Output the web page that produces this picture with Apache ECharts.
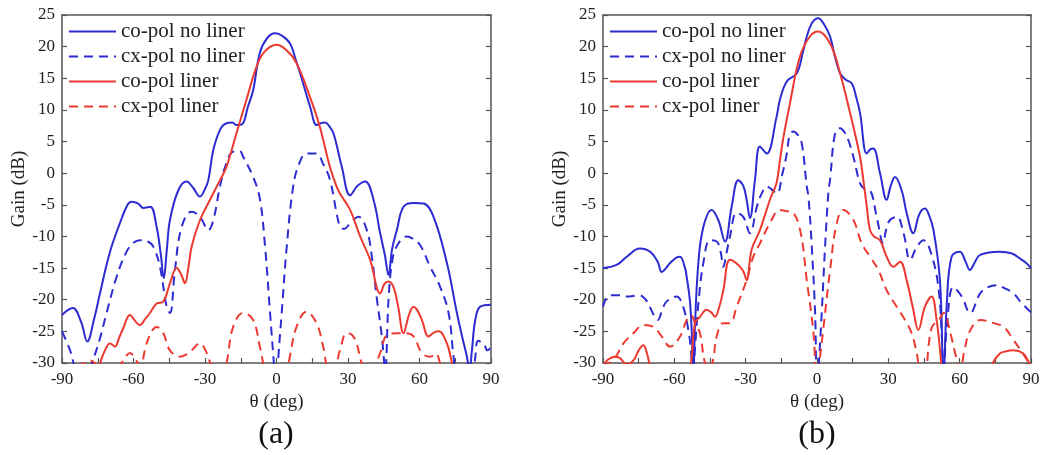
<!DOCTYPE html>
<html>
<head>
<meta charset="utf-8">
<script src="https://cdn.jsdelivr.net/npm/echarts@6/dist/echarts.min.js"></script>
<style>
  html, body { margin: 0; padding: 0; background: #fff; }
  #chart { width: 1043px; height: 455px; }
</style>
</head>
<body>
<div id="chart"></div>
<script>
// (a) [theta deg, gain dB]
const aCoNoLiner = [[-90,-22.4],[-85.5,-21.3],[-82,-23.5],[-79.4,-26.6],[-76.5,-23],[-74,-18.9],[-70,-12.6],[-65.7,-7.9],[-62.5,-5],[-60.8,-4.5],[-58,-4.8],[-55.9,-5.5],[-53,-5.3],[-50.3,-8.5],[-48.5,-13],[-47.3,-16.6],[-46,-12],[-44.7,-7.4],[-41.2,-2.7],[-37.7,-1.3],[-35,-2.3],[-32.1,-3.7],[-30,-2.5],[-28.6,-1.1],[-26.5,3.7],[-23.5,7],[-21,7.9],[-18.5,8],[-16.8,7.6],[-14.5,7.7],[-12,10.5],[-9.8,13.1],[-7,19],[-4,21.3],[-0.6,22.1],[2,21.8],[5.7,20.5],[8,18],[9.9,15.8],[14.1,10.5],[16.9,7.6],[18.5,7.9],[20.4,8],[22,7.5],[23.9,6.3],[27.4,1],[30.9,-3.5],[34,-2],[37.2,-1.3],[40.7,-4.2],[43.5,-9.5],[45.5,-13],[47,-16.1],[48.5,-12],[50.5,-9],[53.3,-5.3],[57.5,-4.7],[61.7,-4.8],[65.9,-6.9],[71.5,-14.2],[75.7,-22.1],[78,-26],[79.9,-29],[81,-31],[82,-28],[83.4,-23.2],[85.5,-21.1],[90,-20.8]];
const aCxNoLiner = [[-90,-25],[-86.6,-28],[-84,-31],[-80,-32],[-77,-29.5],[-74,-26],[-71.3,-22.1],[-67.1,-16.4],[-62.9,-12.4],[-60,-11],[-57.3,-10.6],[-54,-10.8],[-51.7,-11.6],[-48.9,-14.8],[-46.1,-21.1],[-44.7,-22.1],[-42.6,-15.3],[-39.8,-8.5],[-35.6,-6.1],[-32.1,-6.9],[-28.6,-9],[-26.5,-7.4],[-23.7,-2.1],[-21,1.6],[-18.2,3.4],[-15.5,3.5],[-14,2.6],[-9.8,-0.6],[-7,-4],[-4.8,-11.6],[-2.7,-22.1],[-1.3,-29],[0,-35],[0.8,-29],[2.2,-22],[4.3,-11.6],[7,-2.1],[9.5,1.5],[12.6,3.1],[16.8,3.1],[19.5,1.5],[22.4,-1],[26.6,-8.5],[28.5,-8.8],[30.9,-7.9],[34.4,-6.9],[37.9,-9],[40,-13.2],[42,-19.5],[44.2,-25.8],[45.6,-31],[47,-20],[48.5,-14],[50.5,-11.5],[54.7,-10],[57,-10.3],[60.3,-11.4],[64.5,-14.8],[68.7,-18],[72.2,-22.1],[74.3,-29],[76,-33],[80,-33],[83,-30],[84.6,-26.5],[87,-27],[88.5,-28],[90,-27.5]];
const aCoLiner = [[-90,-34],[-76,-33],[-74,-30],[-72,-28],[-69.9,-26.9],[-67.8,-27.4],[-66,-26],[-64.3,-24.5],[-61.5,-22.4],[-59,-23.5],[-57.3,-24],[-55,-23],[-53.1,-22.1],[-50.3,-20.6],[-47.5,-20.3],[-44.7,-17.4],[-41.9,-15],[-40,-16],[-38.4,-17.4],[-37,-15],[-35.6,-11.6],[-32.1,-7.4],[-27.9,-4.2],[-23.7,-1.1],[-21,1],[-16.8,6.3],[-12.6,11.6],[-8.4,16.8],[-5,19.2],[0,20.3],[4,19.5],[8.4,17.4],[14,12.1],[18.2,7.3],[22.4,1],[25.2,-2.1],[26.6,-3.2],[30.9,-5.8],[35.1,-10],[39.3,-13.7],[43.5,-19],[45.3,-17.5],[47,-17.1],[49.1,-18],[51,-21],[53.3,-25.3],[55.5,-22.5],[57.5,-21.1],[59,-21.6],[61,-23.2],[63.8,-25.8],[66,-25.2],[68,-25],[71.5,-26.9],[73.6,-30],[76,-34],[90,-34]];
const aCxLiner = [[-90,-31],[-85,-30.5],[-80,-30],[-78,-29.6],[-75,-30.5],[-72,-31],[-68,-31],[-65,-30],[-61.5,-28.4],[-59,-29.5],[-57.3,-30.5],[-54.5,-26.9],[-52,-24.8],[-50.3,-24.3],[-47.5,-25.3],[-44.7,-28],[-40.5,-29],[-37.5,-28.6],[-35.6,-28],[-32.1,-26.9],[-29.3,-28.4],[-27,-30.5],[-23,-31.5],[-21,-30],[-18.2,-24.3],[-14,-22.1],[-9.8,-23.2],[-7,-27.4],[-5,-31],[-2,-35],[0,-36],[3,-34],[5.6,-29],[8.4,-24.3],[12.6,-21.9],[16.8,-23.7],[19.6,-27.4],[22,-31],[24,-31],[26.6,-28],[29.4,-25.3],[31.5,-25.5],[33.6,-26.9],[36.4,-30.5],[40,-31],[43.5,-28.4],[46.3,-25.6],[50.5,-25.3],[54.7,-25.3],[57.5,-25.8],[61,-28.4],[64.5,-29],[67,-28.5],[69,-30.2],[75,-32],[90,-32]];

// (b)
const bCoNoLiner = [[-90,-15],[-84.3,-14.5],[-80,-13.2],[-74.5,-11.9],[-70.2,-12.4],[-67,-14],[-65.3,-15.6],[-63.5,-15],[-61.8,-14.2],[-59,-13.3],[-57.6,-13.2],[-55.5,-15],[-54.8,-16.4],[-53.5,-20],[-52.7,-24.8],[-52,-32],[-51.3,-24],[-49.9,-14.2],[-47.8,-8.5],[-44.3,-5.8],[-41.5,-7.4],[-38.7,-10.8],[-35.9,-5.3],[-33.1,-1.1],[-31,-2],[-29.6,-4.2],[-28.2,-7.1],[-26.1,-1.1],[-24,4.2],[-21.2,3.1],[-17,8.9],[-15.6,11.6],[-12.7,14.5],[-8.5,15.8],[-6,19],[-4.3,21.6],[-2,23.8],[0.5,24.5],[3,23.5],[5.5,21.6],[7.5,18.5],[9.7,15.8],[12,14.8],[14.6,14.2],[16.5,12],[18.1,9.5],[20.9,3.1],[22.5,3.8],[23.7,3.9],[26.5,0],[29.3,-4.2],[31,-2],[32.8,-0.6],[35.6,-2.7],[37.7,-6.3],[40.5,-9.5],[43,-6.5],[45.4,-5.6],[47,-6.5],[49,-9],[51.7,-16.9],[53.2,-32],[54.6,-20.6],[56.6,-13.2],[60.1,-12.4],[62.5,-14],[64.3,-15.3],[66.5,-14],[68.6,-12.9],[76.9,-12.4],[82,-12.7],[85.4,-13.5],[88,-14.2],[90,-15]];
const bCxNoLiner = [[-90,-21.1],[-87.2,-19.3],[-83,-19.3],[-80.2,-19.5],[-74.6,-19.3],[-72,-20],[-70.4,-21.1],[-66.9,-23.2],[-65,-21.5],[-63.3,-20.3],[-59.1,-19.5],[-56.3,-21.1],[-54.1,-24.8],[-53,-28],[-52.3,-32],[-51,-26],[-49.9,-20.6],[-47.8,-14.2],[-45,-10.6],[-42.2,-10.8],[-40.5,-12.5],[-39.4,-14.8],[-38,-12.5],[-36.6,-10],[-33.8,-6.3],[-31,-6.9],[-28.2,-9.5],[-25.3,-5.3],[-23,-3],[-21.1,-2.1],[-19,-2.6],[-16.9,-3.2],[-14.5,0],[-12.7,3.1],[-11.5,6],[-10,6.6],[-8,6],[-6.4,4.7],[-4.3,-2.1],[-3.6,-3.7],[-2.2,-11.6],[-0.8,-22.1],[0,-34],[0.8,-30],[2,-22],[3.4,-11.6],[4.8,-3],[5.5,-1],[7.6,6.3],[9.7,7.1],[11.5,6.5],[13.2,5.2],[15.3,2.6],[18.1,-1.6],[20,-2.5],[22.3,-2.7],[25.1,-6.9],[27.9,-11.1],[29,-9],[30.7,-7.4],[33.6,-6.9],[36.4,-9.5],[39.2,-13.7],[42,-11.6],[44.8,-10.6],[48.4,-13.2],[51.2,-18.5],[52.5,-26],[53.2,-32],[54.6,-24.3],[57.4,-18],[60.9,-19.5],[64.4,-22.1],[68.6,-19],[72,-18],[75.6,-17.7],[79,-18.2],[82.6,-19],[86,-20.5],[90,-22]];
const bCoLiner = [[-90,-30.5],[-88,-29.5],[-85,-29],[-83,-29.2],[-80,-30.2],[-77,-29.5],[-75,-28],[-73,-27.2],[-71.5,-28.5],[-70.2,-30.5],[-68,-33],[-55,-33],[-53,-30],[-51.3,-23.7],[-49.2,-22.7],[-46.4,-21.6],[-44.5,-22],[-42.9,-22.7],[-41,-21],[-39.4,-18.5],[-36.6,-13.7],[-33.1,-14.5],[-31,-15.5],[-29.6,-16.9],[-27.5,-12.1],[-24,-9],[-19.8,-4.2],[-17,-1.5],[-15.6,2],[-14.2,5.5],[-11.4,11],[-7.2,18.4],[-3,21.6],[0.5,22.4],[5.5,20.5],[9.7,15.8],[13.9,9.5],[18.1,2.6],[19.5,-1.1],[21,-5.5],[22.3,-9],[24,-10],[26.5,-10.6],[29.3,-13.2],[32.1,-14.8],[34.9,-14],[37.7,-16.9],[40.5,-21.6],[42.6,-24.8],[45.4,-21.1],[48.2,-19.5],[50.3,-23.2],[52,-29],[53,-33],[72,-33],[74,-30],[76.9,-28.5],[79,-28.2],[82.6,-28],[86.8,-28.5],[88.5,-29.5],[90,-30.5]];
const bCxLiner = [[-90,-30.5],[-85.6,-29.5],[-81.4,-26.9],[-77.2,-25.3],[-73,-24],[-68.8,-24.3],[-65.3,-25.8],[-61.8,-27.4],[-57.6,-25.8],[-54.8,-23.2],[-53,-22.5],[-51,-24],[-49.2,-25.3],[-47.1,-30],[-45,-31],[-43.5,-29],[-42.2,-25.8],[-39.4,-23.7],[-36.6,-23.7],[-33.8,-21.1],[-29.6,-16.9],[-26.8,-13.2],[-24,-11.1],[-19.8,-7.9],[-15.6,-5.8],[-12.7,-6],[-10.6,-6.1],[-7.1,-9],[-4.3,-16.9],[-1.6,-24.8],[0,-33],[1,-30],[2.6,-24.8],[5.5,-15.3],[8.3,-7.9],[11.1,-5.8],[15.3,-7.4],[18.8,-11.1],[22.3,-13.2],[25.8,-15.3],[29.3,-18.5],[33.5,-21.1],[37,-23.2],[39.8,-25.3],[42,-28.5],[43.5,-31],[45.5,-31],[47,-27],[48.4,-24.3],[51.2,-23.2],[53.3,-22.1],[56.1,-25.3],[58.5,-29],[60.3,-31],[62,-28],[64.5,-24.8],[68.7,-23.2],[74.3,-23.7],[78.5,-24.3],[82.7,-26.4],[86.9,-28.7],[90,-30.5]];

const seriesNames = ['co-pol no liner', 'cx-pol no liner', 'co-pol liner', 'cx-pol liner'];
const xTicks = { min: -90, max: 90, interval: 30 };
const yTicks = { min: -30, max: 25, interval: 5 };

const font = 'Liberation Serif';
const axisColor = '#555';
const blue = '#2c2cd2';
const red = '#ec3a30';

function bottomX(grid) {
  return {
    gridIndex: grid, type: 'value', ...xTicks, position: 'bottom',
    axisLine: { onZero: false, lineStyle: { color: axisColor, width: 1.5 } },
    axisTick: { inside: true, length: 5, lineStyle: { color: axisColor, width: 1.2 } },
    minorTick: { show: true, splitNumber: 2, length: 5, lineStyle: { color: axisColor, width: 1.2 } },
    axisLabel: { color: '#222', fontFamily: font, fontSize: 17, margin: 8 },
    splitLine: { show: false },
    name: 'θ (deg)', nameLocation: 'middle', nameGap: 28,
    nameTextStyle: { color: '#222', fontFamily: font, fontSize: 19 }
  }
}
function topX(grid) {
  return {
    gridIndex: grid, type: 'value', ...xTicks, position: 'top',
    axisLine: { onZero: false, lineStyle: { color: axisColor, width: 1.5 } },
    axisTick: { show: false }, axisLabel: { show: false }, splitLine: { show: false }
  }
}
function leftY(grid) {
  return {
    gridIndex: grid, type: 'value', ...yTicks, position: 'left',
    axisLine: { show: true, onZero: false, lineStyle: { color: axisColor, width: 1.5 } },
    axisTick: { show: true, inside: true, length: 5, lineStyle: { color: axisColor, width: 1.2 } },
    axisLabel: { color: '#222', fontFamily: font, fontSize: 17, margin: 7 },
    splitLine: { show: false },
    name: 'Gain (dB)', nameLocation: 'middle', nameRotate: 90, nameGap: 33,
    nameTextStyle: { color: '#222', fontFamily: font, fontSize: 19 }
  }
}
function rightY(grid) {
  return {
    gridIndex: grid, type: 'value', ...yTicks, position: 'right',
    axisLine: { show: true, onZero: false, lineStyle: { color: axisColor, width: 1.5 } },
    axisTick: { show: true, inside: true, length: 5, lineStyle: { color: axisColor, width: 1.2 } },
    axisLabel: { show: false }, splitLine: { show: false }
  }
}
function line(name, data, color, dashed, axis) {
  return {
    name: name, type: 'line', data: data,
    xAxisIndex: axis, yAxisIndex: axis,
    smooth: 0.4, symbol: 'none', clip: true,
    lineStyle: { color: color, width: 2, type: dashed ? [9, 6] : 'solid' },
    itemStyle: { color: color }
  }
}
function legend(left) {
  return {
    orient: 'vertical', left: left, top: 21, padding: 0,
    itemWidth: 47, itemHeight: 14, itemGap: 4,
    data: seriesNames,
    itemStyle: { opacity: 0 },
    textStyle: { color: '#222', fontFamily: font, fontSize: 21 }
  }
}

const chart = echarts.init(document.getElementById('chart'));
chart.setOption({
  animation: false,
  backgroundColor: '#fff',
  grid: [
    { left: 62, top: 15, width: 429, height: 348 },
    { left: 603, top: 15, width: 428, height: 348 }
  ],
  legend: [legend(68), legend(609)],
  xAxis: [bottomX(0), topX(0), bottomX(1), topX(1)],
  yAxis: [leftY(0), rightY(0), leftY(1), rightY(1)],
  graphic: [
    { type: 'text', x: 276, y: 435, style: { text: '(a)', fill: '#111', font: '32px "Liberation Serif"', textAlign: 'center', textVerticalAlign: 'middle' } },
    { type: 'text', x: 817, y: 435, style: { text: '(b)', fill: '#111', font: '32px "Liberation Serif"', textAlign: 'center', textVerticalAlign: 'middle' } }
  ],
  series: [
    line(seriesNames[0], aCoNoLiner, blue, false, 0),
    line(seriesNames[1], aCxNoLiner, blue, true, 0),
    line(seriesNames[2], aCoLiner, red, false, 0),
    line(seriesNames[3], aCxLiner, red, true, 0),
    line(seriesNames[0], bCoNoLiner, blue, false, 2),
    line(seriesNames[1], bCxNoLiner, blue, true, 2),
    line(seriesNames[2], bCoLiner, red, false, 2),
    line(seriesNames[3], bCxLiner, red, true, 2)
  ]
});
</script>
</body>
</html>
